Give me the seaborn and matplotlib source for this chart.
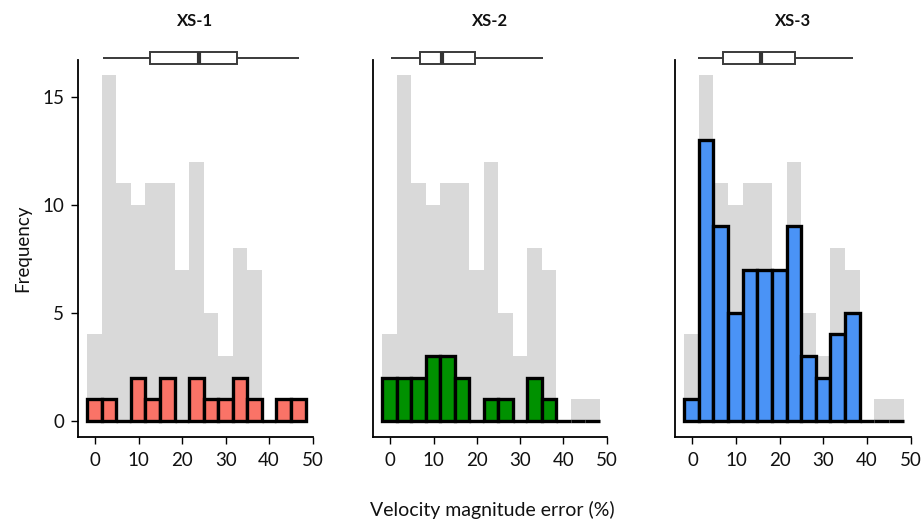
import numpy as np
import pandas as pd
import matplotlib
matplotlib.use("Agg")
import matplotlib.pyplot as plt
import seaborn as sns

# ---------------- data ----------------
panels = ["XS-1", "XS-2", "XS-3"]
bin_range = (-1.9, 48.4)
n_bins = 15
bin_edges = np.linspace(bin_range[0], bin_range[1], n_bins + 1)
bin_centers = (bin_edges[:-1] + bin_edges[1:]) / 2
counts_xs1 = [1, 1, 0, 2, 1, 2, 0, 2, 1, 1, 2, 1, 0, 1, 1]
counts_xs2 = [2, 2, 2, 3, 3, 2, 0, 1, 1, 0, 2, 1, 0, 0, 0]
counts_xs3 = [1, 13, 9, 5, 7, 7, 7, 9, 3, 2, 4, 5, 0, 0, 0]
# five-number summaries (whisker low, Q1, median, Q3, whisker high)
box_xs1 = [1.8, 12.5, 23.8, 32.6, 46.9]
box_xs2 = [0.2, 6.8, 11.9, 19.6, 35.3]
box_xs3 = [1.2, 6.9, 15.6, 23.4, 36.9]
colors = ["#FA7367", "#009100", "#4A93F6"]
x_ticks = [0, 10, 20, 30, 40, 50]
y_ticks = [0, 5, 10, 15]

counts_all = [a + b + c for a, b, c in zip(counts_xs1, counts_xs2, counts_xs3)]
counts = [counts_xs1, counts_xs2, counts_xs3]
boxes = [box_xs1, box_xs2, box_xs3]

# ---------------- style ----------------
sns.set_theme(style="white")
plt.rcParams["font.family"] = ["Lato", "DejaVu Sans"]
plt.rcParams["axes.linewidth"] = 1.1

W, H = 922, 523
fig = plt.figure(figsize=(W / 100, H / 100), dpi=100)

lefts = [78, 373, 675]
rights = [313, 607, 911]
ax_top, ax_bot = 60, 437
txt = "#111111"

for i in range(3):
    l, r = lefts[i], rights[i]
    ax = fig.add_axes([l / W, (H - ax_bot) / H, (r - l) / W, (ax_bot - ax_top) / H])
    grey = pd.DataFrame({"x": bin_centers, "w": counts_all})
    sns.histplot(data=grey, x="x", weights="w", bins=n_bins, binrange=bin_range, ax=ax,
                 color="#D9D9D9", alpha=1, edgecolor="none", linewidth=0)
    d = pd.DataFrame({"x": bin_centers, "w": counts[i]})
    sns.histplot(data=d, x="x", weights="w", bins=n_bins, binrange=bin_range, ax=ax,
                 color=colors[i], alpha=1, edgecolor="black", linewidth=2.4)
    ax.set_xlim(-4.0, 50.1)
    ax.set_ylim(-0.75, 16.7)
    ax.set_xticks(x_ticks)
    ax.set_xticklabels([str(t) for t in x_ticks], fontsize=13.5, color=txt)
    sns.despine(ax=ax)
    for s in ["left", "bottom"]:
        ax.spines[s].set_color("black")
        ax.spines[s].set_linewidth(1.3)
    ax.tick_params(axis="x", bottom=True, direction="out", length=5, width=1, color="black", pad=6)
    if i == 0:
        ax.set_yticks(y_ticks)
        ax.set_yticklabels([str(t) for t in y_ticks], fontsize=13.5, color=txt)
        ax.tick_params(axis="y", left=True, direction="out", length=5, width=1, color="black", pad=5)
        ax.set_ylabel("Frequency", fontsize=13.5, color=txt, labelpad=8)
    else:
        ax.set_yticks([])
        ax.set_ylabel("")
    ax.set_xlabel("")
    ax.set_facecolor("none")

    # boxplot above
    bax = fig.add_axes([l / W, (H - 67.5) / H, (r - l) / W, 20 / H])
    sns.boxplot(x=boxes[i], ax=bax, orient="h", color="white", linecolor="#3a3a3a",
                linewidth=1.4, width=0.6, whis=(0, 100), showcaps=False,
                medianprops=dict(linewidth=3, color="#333333"))
    bax.set_xlim(-4.0, 50.1)
    bax.set_ylim(0.5, -0.5)
    bax.axis("off")
    bax.set_facecolor("none")

    fig.text((l + r) / 2 / W, 1 - 21 / H, panels[i], ha="center", va="center",
             fontsize=12, fontweight="bold", color=txt)

fig.text(492 / W, 1 - 510 / H, "Velocity magnitude error (%)", ha="center", va="center",
         fontsize=14, color=txt)

fig.savefig("out.png", dpi=100)
